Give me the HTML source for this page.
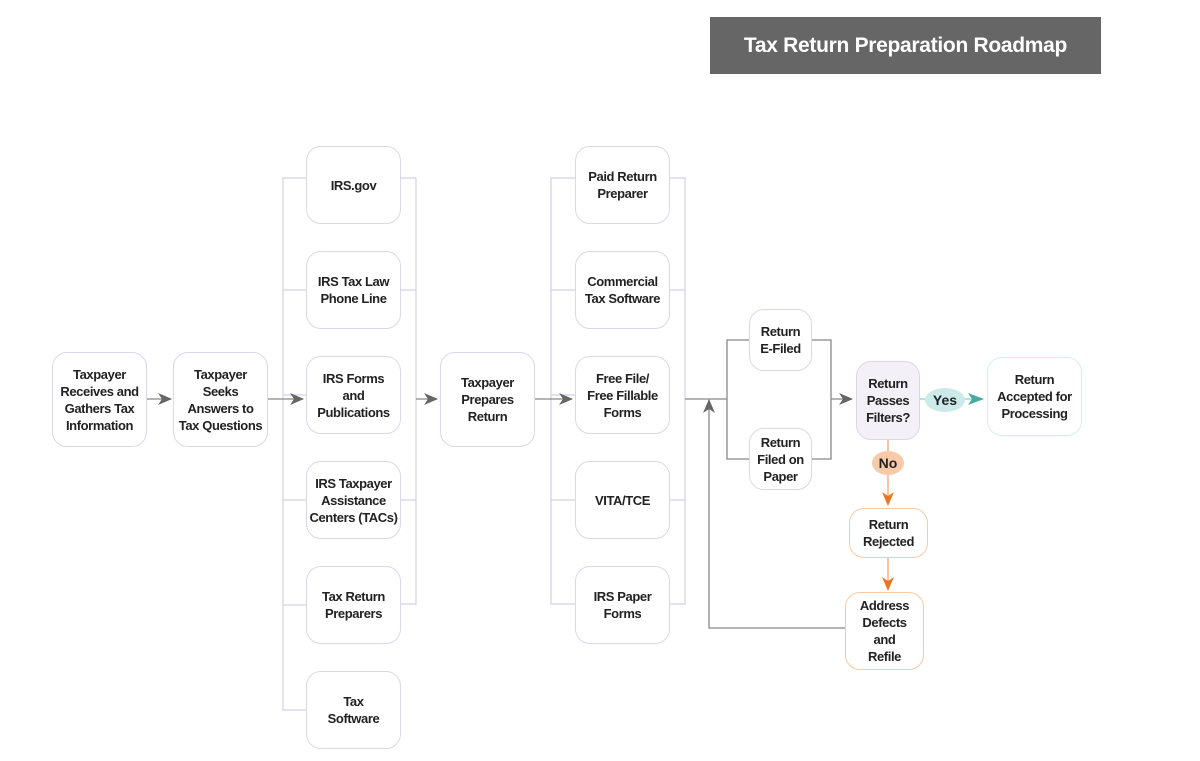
<!DOCTYPE html>
<html><head><style>
body{margin:0;width:1200px;height:761px;background:#fff;position:relative;overflow:hidden;font-family:"Liberation Sans",sans-serif}
.b{position:absolute;box-sizing:border-box;border:1px solid #dcd6ea;border-radius:15px;background:#fff;display:flex;align-items:center;justify-content:center;text-align:center;font-weight:bold;font-size:13px;letter-spacing:-0.4px;line-height:17px;color:#222;white-space:nowrap}
svg{position:absolute;left:0;top:0}
</style></head><body>
<svg width="1200" height="761">
<defs>
<marker id="g" markerWidth="14" markerHeight="12" refX="13" refY="6" orient="auto" markerUnits="userSpaceOnUse"><path d="M0,0 L14,6 L0,12 L4,6 z" fill="#666"/></marker>
<marker id="t" markerWidth="16" markerHeight="12" refX="15" refY="6" orient="auto" markerUnits="userSpaceOnUse"><path d="M0,0 L16,6 L0,12 L4,6 z" fill="#4aaaa0"/></marker>
<marker id="o" markerWidth="14" markerHeight="14" refX="13" refY="6" orient="auto" markerUnits="userSpaceOnUse"><path d="M0,0 L14,6 L0,12 L4,6 z" fill="#e87722"/></marker>
</defs>
<g stroke="#d6cfe6" stroke-width="1.2" fill="none">
<path d="M306,178H283V710H306 M283,290H306 M283,395H306 M283,500H306 M283,605H306"/>
<path d="M401,178H416V604H401 M401,290H416 M401,500H416"/>
<path d="M575,178H551V604H575 M551,290H575 M551,395H575 M551,500H575"/>
<path d="M670,178H685V604H670 M670,290H685 M670,500H685"/>
</g>
<g stroke="#888" stroke-width="1.3" fill="none">
<line x1="147" y1="399" x2="171" y2="399" marker-end="url(#g)"/>
<line x1="268" y1="399" x2="303" y2="399" marker-end="url(#g)"/>
<line x1="416" y1="399" x2="437" y2="399" marker-end="url(#g)"/>
<line x1="535" y1="399" x2="572" y2="399" marker-end="url(#g)"/>
<path d="M685,399H727 M749,340H727V459H749 M812,340H831V459H812"/>
<line x1="831" y1="399" x2="852" y2="399" marker-end="url(#g)"/>
<path d="M845,628H709V400" marker-end="url(#g)"/>
</g>
<line x1="920" y1="399" x2="983" y2="399" stroke="#8fd0ca" stroke-width="1.3" marker-end="url(#t)"/>
<line x1="888" y1="440" x2="888" y2="505" stroke="#f0a878" stroke-width="1.3" marker-end="url(#o)"/>
<line x1="888" y1="558" x2="888" y2="590" stroke="#f0a878" stroke-width="1.3" marker-end="url(#o)"/>
<ellipse cx="945" cy="400" rx="20" ry="12" fill="#cdeaea"/>
<text x="945" y="405" text-anchor="middle" font-family="Liberation Sans" font-weight="bold" font-size="14" fill="#222">Yes</text>
<ellipse cx="888" cy="463" rx="16" ry="12" fill="#f7cbaa"/>
<text x="888" y="468" text-anchor="middle" font-family="Liberation Sans" font-weight="bold" font-size="14" fill="#222">No</text>
</svg>
<div style="position:absolute;left:710px;top:17px;width:391px;height:57px;background:#666;color:#fff;font-weight:bold;font-size:21px;letter-spacing:-0.3px;display:flex;align-items:center;justify-content:center">Tax Return Preparation Roadmap</div>
<div class="b" style="left:52px;top:352px;width:95px;height:95px">Taxpayer<br>Receives and<br>Gathers Tax<br>Information</div>
<div class="b" style="left:173px;top:352px;width:95px;height:95px">Taxpayer<br>Seeks<br>Answers to<br>Tax Questions</div>
<div class="b" style="left:306px;top:146px;width:95px;height:78px">IRS.gov</div>
<div class="b" style="left:306px;top:251px;width:95px;height:78px">IRS Tax Law<br>Phone Line</div>
<div class="b" style="left:306px;top:356px;width:95px;height:78px">IRS Forms<br>and<br>Publications</div>
<div class="b" style="left:306px;top:461px;width:95px;height:78px">IRS Taxpayer<br>Assistance<br>Centers (TACs)</div>
<div class="b" style="left:306px;top:566px;width:95px;height:78px">Tax Return<br>Preparers</div>
<div class="b" style="left:306px;top:671px;width:95px;height:78px">Tax<br>Software</div>
<div class="b" style="left:440px;top:352px;width:95px;height:95px">Taxpayer<br>Prepares<br>Return</div>
<div class="b" style="left:575px;top:146px;width:95px;height:78px">Paid Return<br>Preparer</div>
<div class="b" style="left:575px;top:251px;width:95px;height:78px">Commercial<br>Tax Software</div>
<div class="b" style="left:575px;top:356px;width:95px;height:78px">Free File/<br>Free Fillable<br>Forms</div>
<div class="b" style="left:575px;top:461px;width:95px;height:78px">VITA/TCE</div>
<div class="b" style="left:575px;top:566px;width:95px;height:78px">IRS Paper<br>Forms</div>
<div class="b" style="left:749px;top:309px;width:63px;height:62px">Return<br>E-Filed</div>
<div class="b" style="left:749px;top:428px;width:63px;height:62px">Return<br>Filed on<br>Paper</div>
<div class="b" style="left:856px;top:361px;width:64px;height:79px;background:#f3f0f8">Return<br>Passes<br>Filters?</div>
<div class="b" style="left:987px;top:357px;width:95px;height:79px;border-color:#d2eeea">Return<br>Accepted for<br>Processing</div>
<div class="b" style="left:849px;top:508px;width:79px;height:50px;border-color:#f6c9a8">Return<br>Rejected</div>
<div class="b" style="left:845px;top:592px;width:79px;height:78px;border-color:#f6c9a8">Address<br>Defects<br>and<br>Refile</div>
</body></html>
